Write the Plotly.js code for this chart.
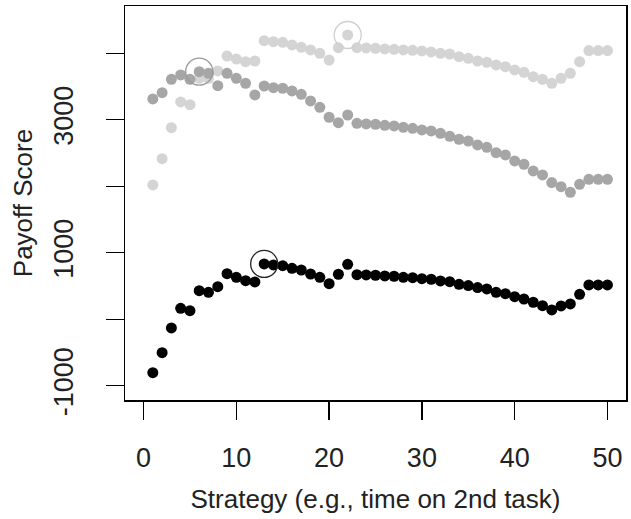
<!DOCTYPE html>
<html>
<head>
<meta charset="utf-8">
<script src="https://cdn.plot.ly/plotly-3.0.1.min.js"></script>
<style>
  html, body { margin: 0; padding: 0; background: #ffffff; }
  #chart { width: 631px; height: 519px; }
</style>
</head>
<body>
<div id="chart"></div>
<script>
// Strategy values (x)
const strategy = [1,2,3,4,5,6,7,8,9,10,11,12,13,14,15,16,17,18,19,20,
                  21,22,23,24,25,26,27,28,29,30,31,32,33,34,35,36,37,38,39,40,
                  41,42,43,44,45,46,47,48,49,50];

// Payoff scores, light-gray series (top)
const payoffLight = [2020,2415,2881,3268,3227,3624,3624,3734,3959,3914,
                     3874,3884,4190,4175,4165,4125,4090,4050,4000,3899,
                     4084,4275,4084,4080,4075,4065,4060,4050,4045,4035,
                     4020,4000,3989,3949,3924,3884,3865,3824,3799,3749,
                     3714,3648,3609,3549,3624,3699,3874,4040,4040,4040];

// Payoff scores, mid-gray series
const payoffMid = [3313,3408,3609,3674,3609,3724,3699,3513,3699,3624,
                   3549,3373,3508,3483,3474,3433,3383,3283,3188,3038,
                   2957,3072,2947,2937,2932,2917,2907,2887,2872,2847,
                   2832,2797,2752,2707,2681,2621,2586,2506,2471,2381,
                   2331,2230,2170,2055,1994,1910,2030,2105,2105,2105];

// Payoff scores, black series (bottom)
const payoffBlack = [-803,-502,-131,165,129,430,406,490,686,631,
                     581,561,832,817,806,767,741,681,631,535,
                     677,826,671,666,662,651,647,631,626,611,
                     602,576,566,526,506,476,456,406,385,340,
                     305,256,205,140,200,230,376,516,516,516];

// Highlighted (circled) strategy for each series
const highlightLight = 22;
const highlightMid = 6;
const highlightBlack = 13;

// Axis ticks
const xTickVals = [0,10,20,30,40,50];
const yTickVals = [-1000,0,1000,2000,3000,4000];
const yTickText = ['-1000','','1000','','3000',''];

const FONT = 'Liberation Sans, Arial, Helvetica, sans-serif';
const TEXT_COLOR = '#222222';

function dotTrace(y, color) {
  return {
    x: strategy, y: y, type: 'scatter', mode: 'markers',
    marker: { color: color, size: 11, line: { width: 0 } },
    hoverinfo: 'skip', showlegend: false
  };
}
function ringTrace(y, hx, color) {
  const i = strategy.indexOf(hx);
  return {
    x: [strategy[i]], y: [y[i]], type: 'scatter', mode: 'markers',
    marker: { symbol: 'circle-open', color: color, size: 27, line: { width: 1.3, color: color } },
    hoverinfo: 'skip', showlegend: false
  };
}

const data = [
  dotTrace(payoffLight, '#d4d4d4'),
  dotTrace(payoffMid, '#a6a6a6'),
  dotTrace(payoffBlack, '#000000'),
  ringTrace(payoffLight, highlightLight, '#cfcfcf'),
  ringTrace(payoffMid, highlightMid, '#9a9a9a'),
  ringTrace(payoffBlack, highlightBlack, '#222222')
];

const layout = {
  width: 631, height: 519,
  margin: { l: 125, r: 5, t: 6, b: 119 },
  paper_bgcolor: '#ffffff', plot_bgcolor: '#ffffff',
  font: { family: FONT, color: TEXT_COLOR, size: 27 },
  xaxis: {
    range: [-2, 52], tickvals: xTickVals, ticktext: xTickVals.map(String),
    ticks: 'outside', ticklen: 18, tickwidth: 1.3, tickcolor: '#000',
    ticklabelstandoff: 15,
    showline: true, mirror: true, linewidth: 1.5, linecolor: '#000',
    showgrid: false, zeroline: false,
    tickfont: { size: 27, family: FONT, color: TEXT_COLOR },
    title: { text: 'Strategy (e.g., time on 2nd task)', font: { size: 26, family: FONT, color: TEXT_COLOR }, standoff: 18 }
  },
  yaxis: {
    range: [-1214, 4711], tickvals: yTickVals, ticktext: yTickText,
    tickangle: -90,
    ticks: 'outside', ticklen: 18, tickwidth: 1.3, tickcolor: '#000',
    ticklabelstandoff: 22,
    showline: true, mirror: true, linewidth: 1.5, linecolor: '#000',
    showgrid: false, zeroline: false,
    tickfont: { size: 27, family: FONT, color: TEXT_COLOR },
    title: { text: 'Payoff Score', font: { size: 26, family: FONT, color: TEXT_COLOR }, standoff: 8 }
  }
};

Plotly.newPlot('chart', data, layout, { displayModeBar: false, staticPlot: true });
</script>
</body>
</html>
